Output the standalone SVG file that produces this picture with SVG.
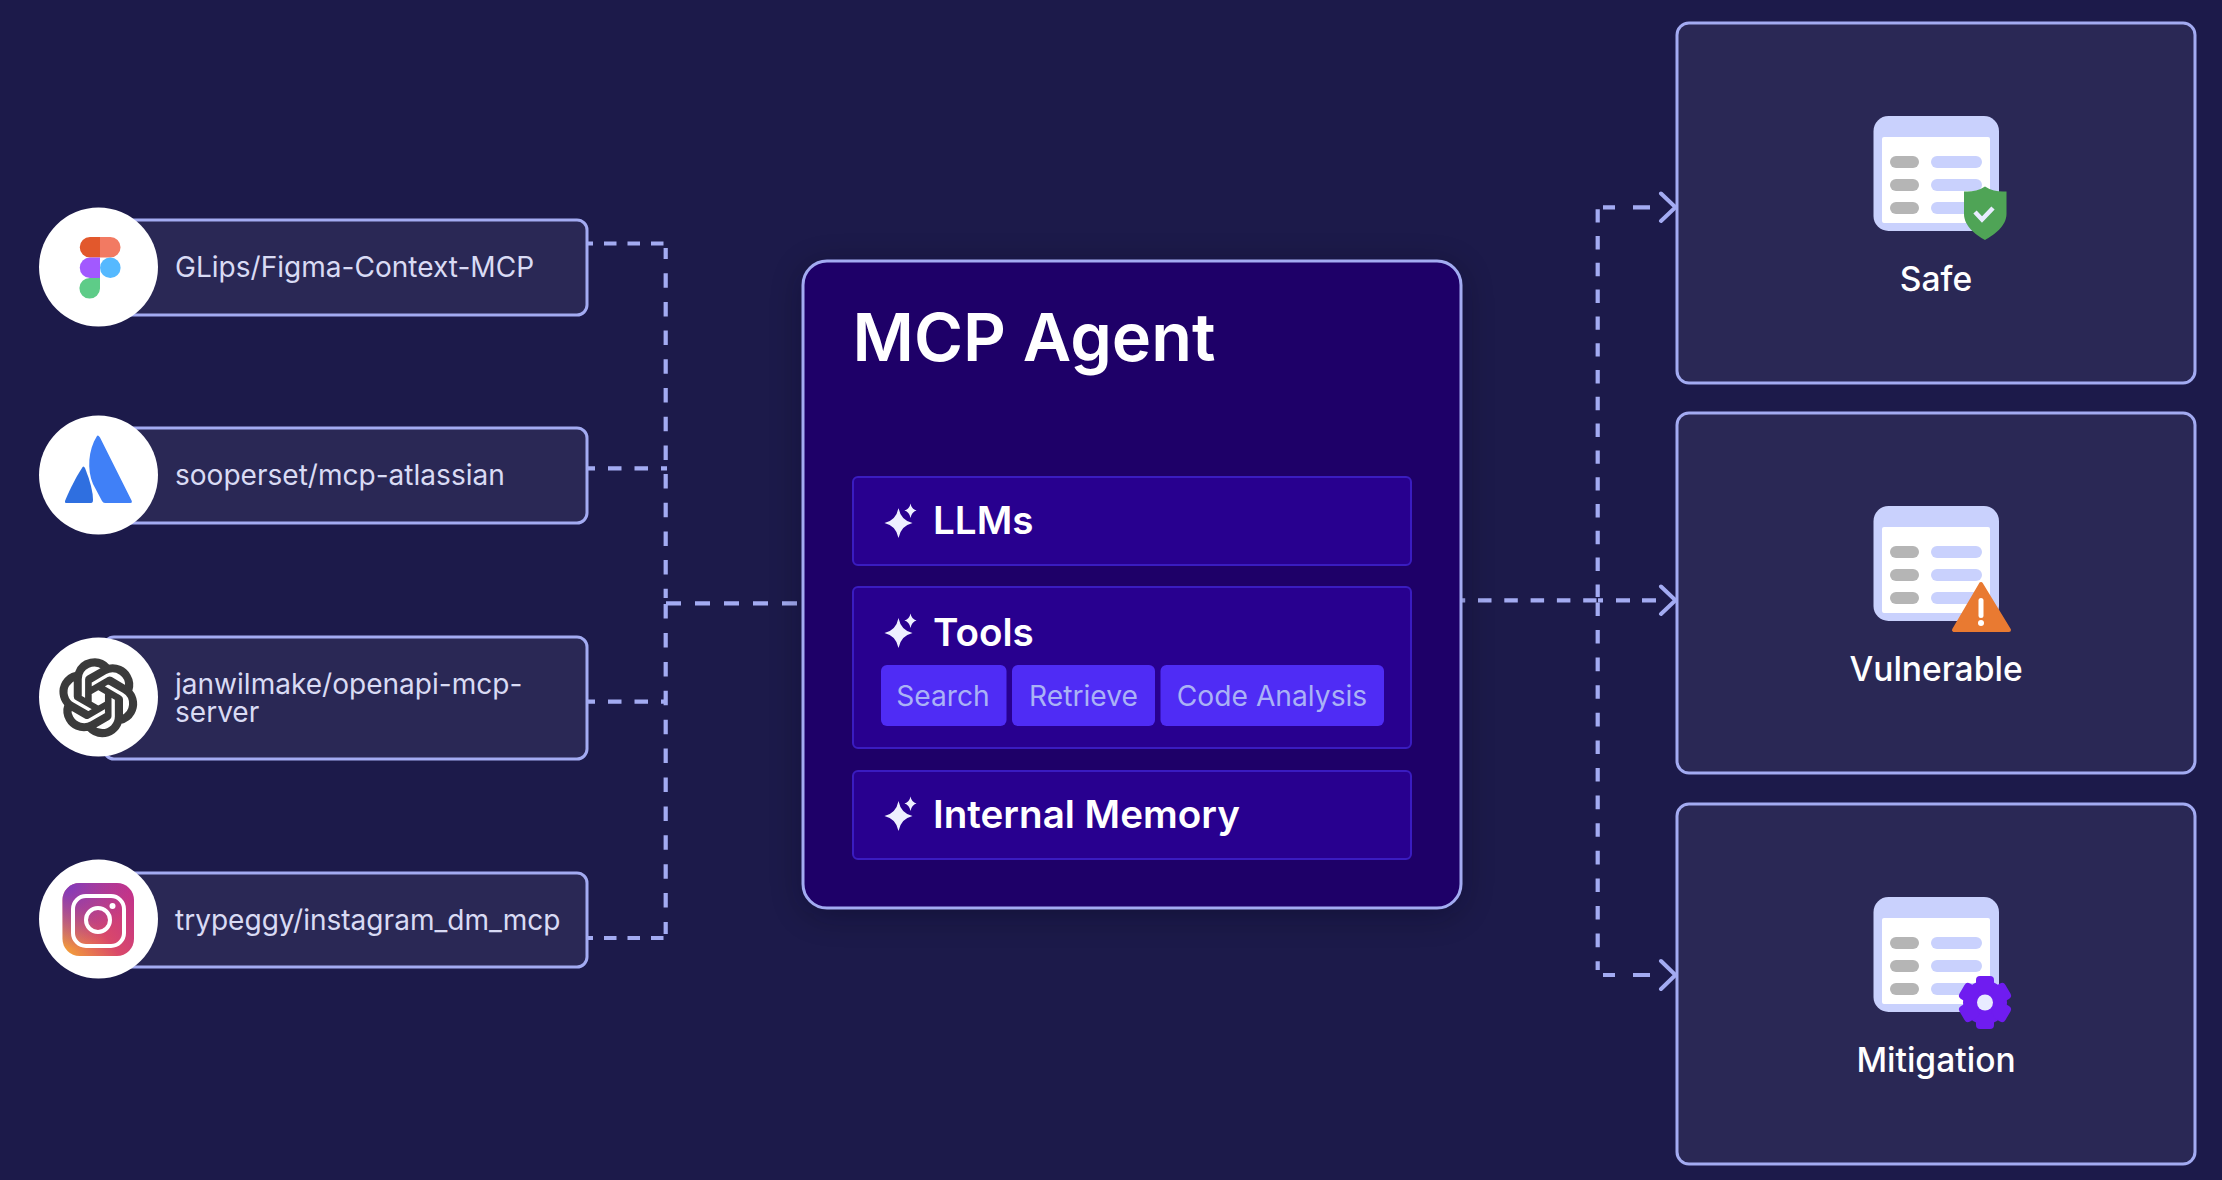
<svg xmlns="http://www.w3.org/2000/svg" xmlns:xlink="http://www.w3.org/1999/xlink" width="2222" height="1180" viewBox="0 0 2222 1180">
<style>
text{font-family:Inter,"Noto Sans","Liberation Sans",sans-serif}
.card{fill:#2a2855;stroke:#a3abf2;stroke-width:3}
.logo{fill:#fff}
.lbl{font-size:28.05px;fill:#d9dbf4;font-weight:400}
.panel{fill:#28008f;stroke:#3a1cc0;stroke-width:2}
.ph{font-size:38.6px;fill:#fff;font-weight:600}
.chip{fill:#4f2cf5}
.cht{font-size:28.2px;fill:#aab2f6;font-weight:400;text-anchor:middle}
.res{font-size:33.6px;fill:#fff;font-weight:500;text-anchor:middle}
.dash{fill:none;stroke:#a3abf2;stroke-width:4.200}
.head{fill:none;stroke:#a3abf2;stroke-width:4;stroke-linecap:round}
</style>
<defs>
<filter id="glow" x="-10%" y="-10%" width="120%" height="120%"><feGaussianBlur stdDeviation="16"/></filter>
<linearGradient id="ig" x1="0" y1="1" x2="1" y2="0.200"><stop offset="0" stop-color="#f6a934"/><stop offset="0.5" stop-color="#d9486a"/><stop offset="1" stop-color="#c2338a"/></linearGradient>
<radialGradient id="igp" cx="0.050" cy="0" r="0.900"><stop offset="0" stop-color="#7d3ac0"/><stop offset="1" stop-color="#7d3ac0" stop-opacity="0"/></radialGradient>
<path id="spark" fill="#eef0ff" d="M0-15Q2.500-2.500 14 0Q2.500 2.500 0 15Q-2.500 2.500-14 0Q-2.500-2.500 0-15ZM12-19.500Q13-14 18-12.500Q13-11 12-5Q11-11 6-12.500Q11-14 12-19.500Z"/>
<g id="doc">
<rect x="1873.500" y="116" width="125.500" height="115" rx="15" fill="#c9d1fd"/>
<rect x="1882" y="137" width="108" height="86" rx="2" fill="#fff"/>
<g fill="#b5b5b5"><rect x="1890" y="156" width="29" height="12" rx="6"/><rect x="1890" y="179" width="29" height="12" rx="6"/><rect x="1890" y="202" width="29" height="12" rx="6"/></g>
<g fill="#c9d1fd"><rect x="1931" y="156" width="51" height="12" rx="6"/><rect x="1931" y="179" width="51" height="12" rx="6"/><rect x="1931" y="202" width="51" height="12" rx="6"/></g>
</g>
</defs>
<rect width="2222" height="1180" fill="#1c1a4a"/>
<g id="connectors">
<path class="dash" stroke-dasharray="12.500 11" d="M580.500 243.500H664"/>
<path class="dash" stroke-dasharray="14.500 14.200" stroke-dashoffset="3.500" d="M665.700 248V460"/>
<path class="dash" stroke-dasharray="14.500 14.200" d="M665.700 474V598"/>
<path class="dash" stroke-dasharray="14.500 14.400" d="M665.700 604.100V934"/>
<path class="dash" stroke-dasharray="13.500 13" d="M581.500 468.300H667"/>
<path class="dash" stroke-dasharray="13.500 13" d="M581.500 701.700H667"/>
<path class="dash" stroke-dasharray="12.500 11" d="M580.500 938H664"/>
<path class="dash" stroke-dasharray="15 14" d="M666 603.300H798"/>
<path class="dash" stroke-dasharray="13.500 12.800" d="M1451.700 600.300H1596.500"/>
<path class="dash" d="M1598 600.300H1603M1616 600.300H1630M1642 600.300H1656"/>
<path class="dash" stroke-dasharray="13.400" d="M1597.700 209.200V597"/>
<path class="dash" stroke-dasharray="13.600 14" d="M1597.700 602.400V970"/>
<path class="dash" d="M1603 207.300H1615M1633 207.300H1650M1603 975H1615M1633 975H1650"/>
<path class="head" d="M1661 193.500L1675.500 207.300L1661 221M1661 586.500L1675.500 600.300L1661 614M1661 961L1675.500 975L1661 989"/>
</g>
<g id="node-figma">
<rect class="card" x="110" y="220" width="477" height="95" rx="10"/>
<circle class="logo" cx="98.500" cy="267" r="59.500"/>
<path fill="#e2582c" d="M100 237H90A10.200 10.200 0 0 0 90 257.500H100Z"/>
<path fill="#f27a62" d="M100 237H110.300A10.200 10.200 0 0 1 110.300 257.500H100Z"/>
<path fill="#a259ff" d="M100 257.500H90A10.200 10.200 0 0 0 90 278H100Z"/>
<circle cx="110.300" cy="267.800" r="10.300" fill="#55b9ff"/>
<path fill="#5ecc88" d="M100 278H90A10.300 10.300 0 1 0 100 288.500Z"/>
<text class="lbl" x="175" y="277">GLips/Figma-Context-MCP</text>
</g>
<g id="node-atlassian">
<rect class="card" x="110" y="428" width="477" height="95" rx="10"/>
<circle class="logo" cx="98.500" cy="475" r="59.500"/>
<path fill="#2f6fe0" d="M82.600 467C74 480 68 494 65 501Q64.500 503 66 503H91Q93 503 93 500Q93 488 85 468Q83.600 465.500 82.600 467Z"/>
<path fill="#4080f7" d="M97 436C88 450 87 470 93 484L102 501Q103 503 105 503H130.500Q132.500 503 131.800 501L100 437.500Q98 434.500 97 436Z"/>
<text class="lbl" x="175" y="485">sooperset/mcp-atlassian</text>
</g>
<g id="node-openai">
<rect class="card" x="104" y="637" width="483" height="122" rx="10"/>
<circle class="logo" cx="98.500" cy="697" r="59.500"/>
<path transform="translate(60.500 660) scale(3.150)" fill="#3b3b3b" stroke="#3b3b3b" stroke-width="1" d="M22.282 9.821a5.985 5.985 0 0 0-.516-4.911 6.046 6.046 0 0 0-6.510-2.900A6.065 6.065 0 0 0 4.981 4.182a5.985 5.985 0 0 0-3.998 2.900 6.046 6.046 0 0 0 .743 7.097 5.980 5.980 0 0 0 .511 4.911 6.051 6.051 0 0 0 6.515 2.900A5.985 5.985 0 0 0 13.260 24a6.056 6.056 0 0 0 5.772-4.206 5.989 5.989 0 0 0 3.998-2.900 6.056 6.056 0 0 0-.748-7.073zm-9.022 12.608a4.476 4.476 0 0 1-2.876-1.041l.142-.080 4.778-2.758a.795.795 0 0 0 .393-.681v-6.737l2.020 1.169a.071.071 0 0 1 .038.052v5.583a4.504 4.504 0 0 1-4.495 4.494zm-9.661-4.125a4.471 4.471 0 0 1-.535-3.014l.142.085 4.783 2.758a.771.771 0 0 0 .781 0l5.843-3.368v2.332a.080.080 0 0 1-.033.062L9.740 19.950a4.499 4.499 0 0 1-6.141-1.646zM2.341 7.896a4.485 4.485 0 0 1 2.365-1.973V11.600a.766.766 0 0 0 .388.677l5.814 3.354-2.020 1.169a.076.076 0 0 1-.071 0l-4.830-2.787A4.504 4.504 0 0 1 2.341 7.872zm16.596 3.856L13.104 8.364 15.119 7.200a.076.076 0 0 1 .071 0l4.830 2.791a4.494 4.494 0 0 1-.676 8.104v-5.677a.790.790 0 0 0-.407-.667zm2.011-3.023l-.142-.085-4.774-2.782a.776.776 0 0 0-.785 0L9.409 9.230V6.897a.066.066 0 0 1 .028-.061l4.830-2.787a4.499 4.499 0 0 1 6.680 4.660zM8.307 12.863l-2.020-1.164a.080.080 0 0 1-.038-.057V6.074a4.499 4.499 0 0 1 7.376-3.454l-.142.081L8.704 5.459a.795.795 0 0 0-.393.681zm1.097-2.365l2.602-1.500 2.607 1.500v3l-2.597 1.500-2.607-1.500Z"/>
<text class="lbl"><tspan x="175" y="694">janwilmake/openapi-mcp-</tspan><tspan x="175" y="722">server</tspan></text>
</g>
<g id="node-instagram">
<rect class="card" x="110" y="873" width="477" height="94" rx="10"/>
<circle class="logo" cx="98.500" cy="919" r="59.500"/>
<rect x="62.500" y="883" width="71.500" height="73" rx="17" fill="url(#ig)"/>
<rect x="62.500" y="883" width="71.500" height="73" rx="17" fill="url(#igp)"/>
<rect x="73" y="896" width="51" height="50" rx="13" fill="none" stroke="#fff" stroke-width="4"/>
<circle cx="98" cy="920" r="12" fill="none" stroke="#fff" stroke-width="4"/>
<circle cx="112.500" cy="906" r="3" fill="#fff"/>
<text class="lbl" x="175" y="930">trypeggy/instagram_dm_mcp</text>
</g>
<g id="node-agent">
<rect x="803" y="261" width="658" height="647" rx="24" fill="#000016" opacity="0.35" filter="url(#glow)" transform="translate(0 6)"/>
<rect x="803" y="261" width="658" height="647" rx="24" fill="#1e0068" stroke="#a3abf2" stroke-width="3"/>
<text x="852.500" y="361" font-size="66.6" font-weight="600" fill="#fff">MCP Agent</text>
<g id="llms">
<rect class="panel" x="853" y="477" width="558" height="88" rx="5"/>
<use href="#spark" x="898.500" y="523"/>
<text class="ph" x="933" y="534">LLMs</text>
</g>
<g id="tools">
<rect class="panel" x="853" y="587" width="558" height="161" rx="5"/>
<use href="#spark" x="898.500" y="633"/>
<text class="ph" x="933" y="646">Tools</text>
<rect class="chip" x="881" y="665" width="125.500" height="61" rx="6"/>
<text class="cht" x="943" y="706">Search</text>
<rect class="chip" x="1012" y="665" width="143" height="61" rx="6"/>
<text class="cht" x="1083.500" y="706">Retrieve</text>
<rect class="chip" x="1160.500" y="665" width="223.500" height="61" rx="6"/>
<text class="cht" x="1272" y="706">Code Analysis</text>
</g>
<g id="memory">
<rect class="panel" x="853" y="771" width="558" height="88" rx="5"/>
<use href="#spark" x="898.500" y="816"/>
<text class="ph" x="933" y="828">Internal Memory</text>
</g>
</g>
<g id="node-safe">
<rect class="card" x="1677" y="23" width="518" height="360" rx="12"/>
<use href="#doc"/>
<path fill="#4fa456" d="M1985 186.500C1978 191 1971 192 1964 191.500V214C1964 226 1976 235 1985 240C1994 235 2006.500 226 2006.500 214V191.500C1999 192 1992 191 1985 186.500Z"/>
<path fill="none" stroke="#e9ecff" stroke-width="4.500" d="M1975 212L1982 219.500L1993 208"/>
<text class="res" x="1936" y="291">Safe</text>
</g>
<g id="node-vulnerable">
<rect class="card" x="1677" y="413" width="518" height="360" rx="12"/>
<use href="#doc" y="390"/>
<path fill="#e97a31" stroke="#e97a31" stroke-width="4" stroke-linejoin="round" d="M1981 584L1954 630H2009Z"/>
<rect x="1978.500" y="598" width="5" height="20" rx="2.500" fill="#fff"/>
<circle cx="1981" cy="623" r="3" fill="#fff"/>
<text class="res" x="1936" y="681">Vulnerable</text>
</g>
<g id="node-mitigation">
<rect class="card" x="1677" y="804" width="518" height="360" rx="12"/>
<use href="#doc" y="781"/>
<g transform="translate(1985 1002.500)" fill="#6f1cf0">
<circle r="22"/>
<rect x="-9" y="-26.500" width="18" height="16" rx="4"/>
<rect x="-9" y="-26.500" width="18" height="16" rx="4" transform="rotate(60)"/>
<rect x="-9" y="-26.500" width="18" height="16" rx="4" transform="rotate(120)"/>
<rect x="-9" y="-26.500" width="18" height="16" rx="4" transform="rotate(180)"/>
<rect x="-9" y="-26.500" width="18" height="16" rx="4" transform="rotate(240)"/>
<rect x="-9" y="-26.500" width="18" height="16" rx="4" transform="rotate(300)"/>
<circle r="8" fill="#e8ebff"/>
</g>
<text class="res" x="1936" y="1072">Mitigation</text>
</g>
</svg>
